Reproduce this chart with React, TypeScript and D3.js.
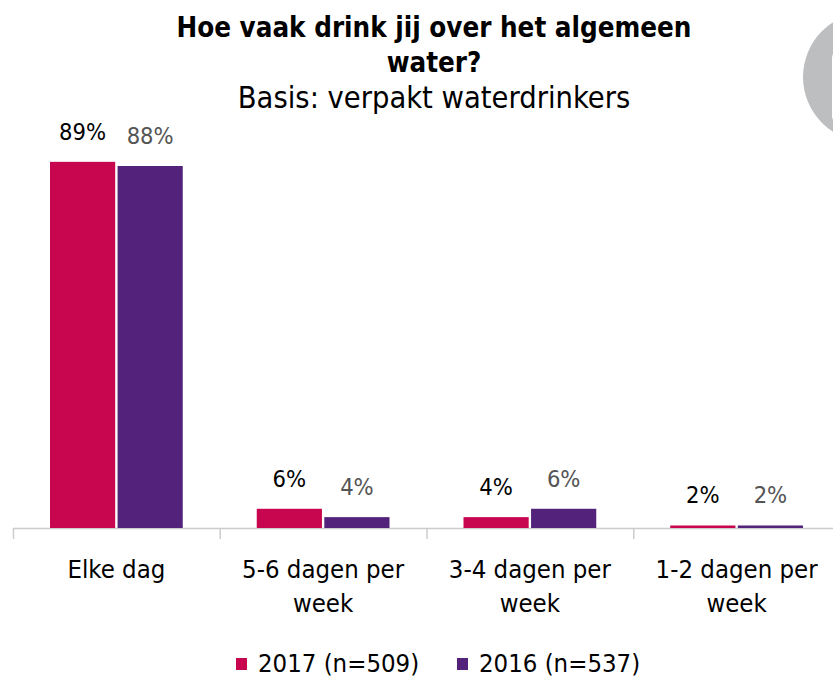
import React, { useEffect, useRef } from 'react';
import * as d3 from 'd3';

// chart data
const categories = [
  ['Elke dag'],
  ['5-6 dagen per', 'week'],
  ['3-4 dagen per', 'week'],
  ['1-2 dagen per', 'week'],
];
const series2017 = [89, 6, 4, 2];
const series2016 = [88, 4, 6, 2];
const seriesNames = ['2017 (n=509)', '2016 (n=537)'];
const seriesColors = ['#c8064f', '#53227a'];
const labelColors = ['#000000', '#555555'];

const FONT = '"DejaVu Sans Condensed", "DejaVu Sans", sans-serif';

const App = () => {
  const svgRef = useRef<SVGSVGElement | null>(null);

  useEffect(() => {
    const width = 833;
    const height = 677;
    const svg = d3.select(svgRef.current).attr('width', width).attr('height', height);
    svg.selectAll('*').remove();

    svg.append('rect').attr('width', width).attr('height', height).attr('fill', '#ffffff');

    // grey badge on the right edge
    svg.append('circle').attr('cx', 868).attr('cy', 77).attr('r', 65).attr('fill', '#bdbec0');
    svg.append('rect').attr('x', 832).attr('y', 50).attr('width', 40).attr('height', 74).attr('rx', 8).attr('fill', '#ffffff');

    // titles
    const title = svg.append('text').attr('text-anchor', 'middle').style('font-family', FONT);
    title.append('tspan').attr('x', 434).attr('y', 37).style('font-size', '27.5px').style('font-weight', 'bold').text('Hoe vaak drink jij over het algemeen');
    title.append('tspan').attr('x', 434).attr('y', 72).style('font-size', '27.5px').style('font-weight', 'bold').text('water?');
    title.append('tspan').attr('x', 434).attr('y', 108).style('font-size', '30.5px').text('Basis: verpakt waterdrinkers');

    const baseline = 528;
    const x0 = d3.scaleBand<number>().domain(d3.range(categories.length)).range([13, 840]).paddingInner(0).paddingOuter(0);
    const x1 = d3.scaleBand<number>().domain([0, 1]).range([37, x0.bandwidth() - 37]).paddingInner(0.035);
    const y = d3.scaleLinear().domain([1.4, 90]).range([baseline, baseline - 88.6 * 4.18]);

    const data = [series2017, series2016];

    // axis
    svg.append('line').attr('x1', 13).attr('x2', 833).attr('y1', baseline + 0.5).attr('y2', baseline + 0.5)
      .attr('stroke', '#cccccc').attr('stroke-width', 1.5);
    svg.selectAll('.tick').data(d3.range(categories.length)).enter().append('line')
      .attr('x1', (d) => x0(d)! + 0.5).attr('x2', (d) => x0(d)! + 0.5)
      .attr('y1', baseline).attr('y2', baseline + 11)
      .attr('stroke', '#cccccc').attr('stroke-width', 1.5);

    // bars
    data.forEach((vals, s) => {
      const g = svg.append('g');
      g.selectAll('rect').data(vals).enter().append('rect')
        .attr('x', (d, i) => x0(i)! + x1(s)!)
        .attr('y', (d) => y(d))
        .attr('width', x1.bandwidth())
        .attr('height', (d) => baseline - y(d))
        .attr('fill', seriesColors[s]);
      g.selectAll('text').data(vals).enter().append('text')
        .attr('x', (d, i) => x0(i)! + x1(s)! + x1.bandwidth() / 2)
        .attr('y', (d) => y(d) - 22)
        .attr('text-anchor', 'middle')
        .style('font-family', FONT)
        .style('font-size', '23.5px')
        .attr('fill', labelColors[s])
        .text((d) => `${d}%`);
    });

    // category labels
    categories.forEach((lines, i) => {
      const t = svg.append('text').attr('text-anchor', 'middle').style('font-family', FONT)
        .style('font-size', '25.5px').attr('fill', '#000');
      lines.forEach((line, j) => {
        t.append('tspan').attr('x', x0(i)! + x0.bandwidth() / 2).attr('y', 578 + j * 34).text(line);
      });
    });

    // legend
    const legend = svg.append('g').style('font-family', FONT).style('font-size', '25.5px');
    const legendX = [236, 457];
    seriesNames.forEach((name, s) => {
      legend.append('rect').attr('x', legendX[s]).attr('y', 658).attr('width', 11).attr('height', 12).attr('fill', seriesColors[s]);
      legend.append('text').attr('x', legendX[s] + 22).attr('y', 672).attr('fill', '#000').text(name);
    });
  }, []);

  return (
    <svg ref={svgRef} style={{ position: 'absolute', left: 0, top: 0 }}></svg>
  );
};

export default App;
